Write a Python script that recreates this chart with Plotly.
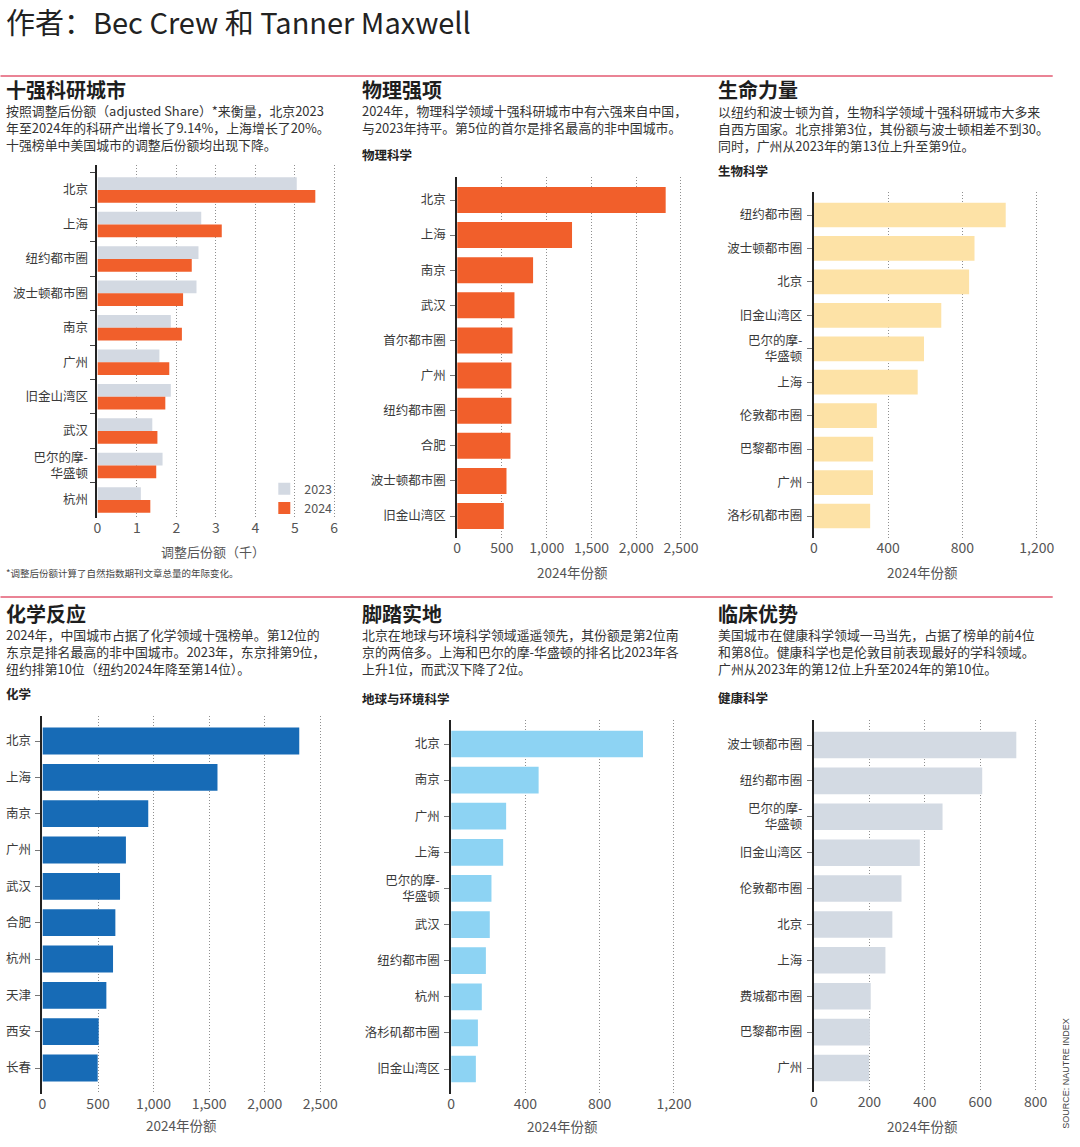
import plotly.graph_objects as go

W, H = 1080, 1147
FONT = "Noto Sans CJK SC"

# ---------------- data ----------------
top_cities = ["北京", "上海", "纽约都市圈", "波士顿都市圈", "南京", "广州",
              "旧金山湾区", "武汉", "巴尔的摩-<br>华盛顿", "杭州"]
top_2023 = [5.05, 2.63, 2.56, 2.51, 1.86, 1.57, 1.86, 1.39, 1.65, 1.10]
top_2024 = [5.52, 3.15, 2.39, 2.17, 2.14, 1.82, 1.72, 1.52, 1.49, 1.34]

phys_cities = ["北京", "上海", "南京", "武汉", "首尔都市圈", "广州",
               "纽约都市圈", "合肥", "波士顿都市圈", "旧金山湾区"]
phys_vals = [2329, 1283, 848, 640, 618, 606, 606, 595, 551, 521]

bio_cities = ["纽约都市圈", "波士顿都市圈", "北京", "旧金山湾区", "巴尔的摩-<br>华盛顿",
              "上海", "伦敦都市圈", "巴黎都市圈", "广州", "洛杉矶都市圈"]
bio_vals = [1033, 865, 836, 686, 593, 559, 339, 319, 318, 303]

chem_cities = ["北京", "上海", "南京", "广州", "武汉", "合肥", "杭州", "天津", "西安", "长春"]
chem_vals = [2311, 1575, 952, 751, 698, 656, 635, 575, 506, 497]

earth_cities = ["北京", "南京", "广州", "上海", "巴尔的摩-<br>华盛顿", "武汉",
                "纽约都市圈", "杭州", "洛杉矶都市圈", "旧金山湾区"]
earth_vals = [1033, 471, 296, 280, 217, 208, 187, 165, 144, 133]

health_cities = ["波士顿都市圈", "纽约都市圈", "巴尔的摩-<br>华盛顿", "旧金山湾区", "伦敦都市圈",
                 "北京", "上海", "费城都市圈", "巴黎都市圈", "广州"]
health_vals = [730, 607, 464, 382, 316, 283, 258, 205, 202, 199]

header_text = "作者：Bec Crew 和 Tanner Maxwell"
panel_titles = ["十强科研城市", "物理强项", "生命力量", "化学反应", "脚踏实地", "临床优势"]
panel_subtitles = [
    ["按照调整后份额（adjusted Share）*来衡量，北京2023",
     "年至2024年的科研产出增长了9.14%，上海增长了20%。",
     "十强榜单中美国城市的调整后份额均出现下降。"],
    ["2024年，物理科学领域十强科研城市中有六强来自中国，",
     "与2023年持平。第5位的首尔是排名最高的非中国城市。"],
    ["以纽约和波士顿为首，生物科学领域十强科研城市大多来",
     "自西方国家。北京排第3位，其份额与波士顿相差不到30。",
     "同时，广州从2023年的第13位上升至第9位。"],
    ["2024年，中国城市占据了化学领域十强榜单。第12位的",
     "东京是排名最高的非中国城市。2023年，东京排第9位，",
     "纽约排第10位（纽约2024年降至第14位）。"],
    ["北京在地球与环境科学领域遥遥领先，其份额是第2位南",
     "京的两倍多。上海和巴尔的摩-华盛顿的排名比2023年各",
     "上升1位，而武汉下降了2位。"],
    ["美国城市在健康科学领域一马当先，占据了榜单的前4位",
     "和第8位。健康科学也是伦敦目前表现最好的学科领域。",
     "广州从2023年的第12位上升至2024年的第10位。"],
]
sub_heads = [None, "物理科学", "生物科学", "化学", "地球与环境科学", "健康科学"]
axis_titles = ["调整后份额（千）", "2024年份额", "2024年份额", "2024年份额", "2024年份额", "2024年份额"]
footnote = "*调整后份额计算了自然指数期刊文章总量的年际变化。"
source_text = "SOURCE: NAUTRE INDEX"
legend_names = ["2023", "2024"]

# ---------------- styling ----------------
C_2023 = "#d3d9e2"
C_2024 = "#f15f2b"
C_BIO = "#fde2a6"
C_CHEM = "#176bb6"
C_EARTH = "#8dd3f3"
C_HEALTH = "#d3dae3"
TXT = "#2b2b2b"
GREY = "#555555"

SX, OX = 0.985, 3.5  # horizontal correction observed in the capture


def px(t):
    return ((t - OX) / SX) / W


def py(y):
    return 1 - y / H


# panel geometry (target pixels)
panels = [
    dict(x0=97, xv=6, xpx=334, xr_max=6.1, yt=165, yb=518, c0=190, c9=500, dtick=1, tx=4),
    dict(x0=457, xv=2500, xpx=681, xr_max=2550, yt=177, yb=538, c0=200, c9=516, dtick=500, tx=360),
    dict(x0=814, xv=1200, xpx=1037, xr_max=1230, yt=192, yb=538, c0=215, c9=516, dtick=400, tx=716),
    dict(x0=42, xv=2500, xpx=320, xr_max=2550, yt=716, yb=1094, c0=741, c9=1068, dtick=500, tx=4),
    dict(x0=451, xv=1200, xpx=674, xr_max=1230, yt=720, yb=1094, c0=744, c9=1069, dtick=400, tx=360),
    dict(x0=814, xv=800, xpx=1036, xr_max=820, yt=720, yb=1092, c0=745, c9=1068, dtick=200, tx=716),
]
title_y = [89, 89, 89, 613, 613, 613]
sub_top = [99, 99, 100, 623, 623, 623]
subhead_y = [None, 155, 170, 693, 698, 697]
axis_title_pos = [(213, 551), (572, 572), (923, 572), (181, 1125), (562, 1126), (923, 1126)]

fig = go.Figure()

# panel 1: grouped bars
fig.add_trace(go.Bar(y=top_cities, x=top_2023, orientation="h", name=legend_names[0],
                     marker=dict(color=C_2023, line=dict(width=0)),
                     xaxis="x", yaxis="y", showlegend=True))
fig.add_trace(go.Bar(y=top_cities, x=top_2024, orientation="h", name=legend_names[1],
                     marker=dict(color=C_2024, line=dict(width=0)),
                     xaxis="x", yaxis="y", showlegend=True))

singles = [
    (phys_cities, phys_vals, C_2024, 2),
    (bio_cities, bio_vals, C_BIO, 3),
    (chem_cities, chem_vals, C_CHEM, 4),
    (earth_cities, earth_vals, C_EARTH, 5),
    (health_cities, health_vals, C_HEALTH, 6),
]
for cats, vals, col, i in singles:
    fig.add_trace(go.Bar(y=cats, x=vals, orientation="h",
                         marker=dict(color=col, line=dict(width=0)),
                         xaxis=f"x{i}", yaxis=f"y{i}", showlegend=False))

layout = dict(
    width=W, height=H,
    margin=dict(l=0, r=0, t=0, b=0),
    paper_bgcolor="white", plot_bgcolor="white",
    font=dict(family=FONT, color=TXT),
    barmode="group", bargap=0.26, bargroupgap=0.0,
    legend=dict(x=px(264), y=py(474), xanchor="left", yanchor="top",
                font=dict(size=12.5, color=GREY), bgcolor="rgba(0,0,0,0)",
                tracegroupgap=0, itemwidth=30, traceorder="normal"),
)

for i, p in enumerate(panels):
    sfx = "" if i == 0 else str(i + 1)
    ppu = (p["xpx"] - p["x0"]) / p["xv"]
    x1 = p["x0"] + ppu * p["xr_max"]
    s = (p["c9"] - p["c0"]) / 9.0
    ytop = -(p["c0"] - p["yt"]) / s
    ybot = 9 + (p["yb"] - p["c9"]) / s
    layout["xaxis" + sfx] = dict(
        domain=[px(p["x0"]), px(x1)], range=[0, p["xr_max"]], anchor="y" + sfx,
        showgrid=True, gridcolor="#8f8f8f", griddash="1px,2px", gridwidth=1,
        zeroline=False, showline=False, ticks="", dtick=p["dtick"], tick0=0,
        tickformat=",d" if p["dtick"] >= 200 else "d",
        tickfont=dict(size=14, color=GREY), fixedrange=True,
    )
    ycfg = dict(
        domain=[py(p["yb"]), py(p["yt"])], anchor="x" + sfx,
        range=[ybot, ytop], type="category",
        showline=True, linecolor="#222222", linewidth=2,
        ticks="outside", ticklen=5, tickcolor="#777777", tickwidth=1,
        ticklabelstandoff=2,
        showgrid=False, zeroline=False,
        tickfont=dict(size=12.5, color="#3a3a3a"), fixedrange=True,
    )
    if i == 0:
        ycfg["tickson"] = "boundaries"
        ycfg["tickcolor"] = "#444444"
        ycfg["ticklabelstandoff"] = 5
    layout["yaxis" + sfx] = ycfg

ann = []
ann.append(dict(text=header_text, x=px(3), y=py(21), xref="paper", yref="paper",
                xanchor="left", yanchor="middle", showarrow=False,
                font=dict(size=29, color="#222222", family=FONT)))
for i, p in enumerate(panels):
    ann.append(dict(text=f"<b>{panel_titles[i]}</b>", x=px(p["tx"]), y=py(title_y[i]),
                    xref="paper", yref="paper", xanchor="left", yanchor="middle",
                    showarrow=False, font=dict(size=20, color="#1e1e1e")))
    ann.append(dict(text="<br>".join(panel_subtitles[i]), x=px(p["tx"]), y=py(sub_top[i]),
                    xref="paper", yref="paper", xanchor="left", yanchor="top",
                    align="left", showarrow=False,
                    font=dict(size=12.9, color="#333333")))
    if sub_heads[i]:
        ann.append(dict(text=f"<b>{sub_heads[i]}</b>", x=px(p["tx"]), y=py(subhead_y[i]),
                        xref="paper", yref="paper", xanchor="left", yanchor="middle",
                        showarrow=False, font=dict(size=12.5, color="#222222")))
    ax, ay = axis_title_pos[i]
    ann.append(dict(text=axis_titles[i], x=px(ax), y=py(ay), xref="paper", yref="paper",
                    xanchor="center", yanchor="middle", showarrow=False,
                    font=dict(size=13.5 if i else 13, color=GREY)))

ann.append(dict(text=footnote, x=px(3), y=py(573), xref="paper", yref="paper",
                xanchor="left", yanchor="middle", showarrow=False,
                font=dict(size=9.5, color="#444444")))
ann.append(dict(text=source_text, x=px(1066), y=py(1073), xref="paper", yref="paper",
                xanchor="center", yanchor="middle", showarrow=False, textangle=-90,
                font=dict(size=9, color="#444444", family="Liberation Sans")))
layout["annotations"] = ann

layout["shapes"] = [
    dict(type="line", xref="paper", yref="paper", x0=px(0), x1=px(1053), y0=py(76), y1=py(76),
         line=dict(color="#e35a72", width=1.5)),
    dict(type="line", xref="paper", yref="paper", x0=px(0), x1=px(1053), y0=py(597), y1=py(597),
         line=dict(color="#e35a72", width=1.5)),
]

fig.update_layout(**layout)
fig.write_html("out.html", config={"displayModeBar": False},
               post_script="document.body.style.margin='0';document.body.style.overflow='hidden';")
